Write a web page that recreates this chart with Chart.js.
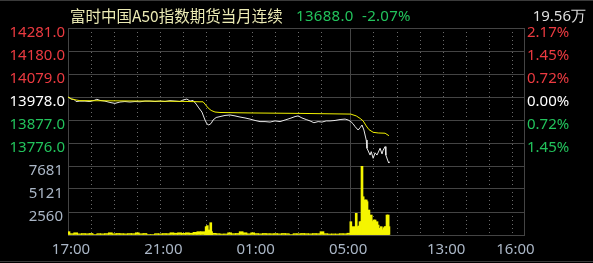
<!DOCTYPE html>
<html>
<head>
<meta charset="utf-8">
<script src="https://cdn.jsdelivr.net/npm/chart.js@4.4.0/dist/chart.umd.min.js"></script>
<style>
  html, body { margin: 0; padding: 0; background: #000; }
  #wrap { position: relative; width: 593px; height: 263px; background: #000; overflow: hidden; }
  #cv { position: absolute; left: 0; top: 0; }
  .hd { position: absolute; top: 4px; line-height: 22px; white-space: nowrap; font-family: "Noto Sans", sans-serif; font-size: 15px; }
  .rule { position: absolute; left: 0; width: 593px; height: 1px; background: #3a3a3a; }
</style>
</head>
<body>
<div id="wrap">
  <canvas id="cv" width="593" height="263"></canvas>
  <div class="hd" id="title" style="left:70px;color:#ecebb4;font-family:'Noto Sans CJK SC',sans-serif;font-size:15.5px"></div>
  <div class="hd" id="last" style="left:296px;color:#22c35c;letter-spacing:0.3px"></div>
  <div class="hd" id="total" style="right:7px;color:#dedede"></div>
  <div class="rule" style="top:0"></div>
  <div class="rule" style="top:261px"></div>
</div>
<script>
const title = "富时中国A50指数期货当月连续";
const lastPrice = "13688.0";
const changePct = "-2.07%";
const totalVol = "19.56万";
const prevClose = 13978;

// x axis runs in trading minutes from 17:00 (night session 17:00-05:15, day 09:00-16:30)
const hourMarks = [0, 60, 120, 180, 240, 300, 360, 420, 480, 540, 600, 660, 720, 735, 795, 855, 915, 975, 1035, 1095, 1155];
const timeTickMin = [0, 240, 480, 720, 975, 1155];
const timeTickText = ["17:00", "21:00", "01:00", "05:00", "13:00", "16:00"];

const priceTicks = [14281, 14180, 14079, 13978, 13877, 13776, 13675];
const priceTickText = ["14281.0", "14180.0", "14079.0", "13978.0", "13877.0", "13776.0", ""];
const pctTickText = ["2.17%", "1.45%", "0.72%", "0.00%", "0.72%", "1.45%", ""];
const volTicks = [7681, 5121, 2560, 0];
const volTickText = ["7681", "5121", "2560", ""];

const priceMin = [0,8,16,21,31,44,57,68,75,83,96,109,122,135,148,161,174,187,200,213,
  226,239,252,265,278,291,299,309,317,325,333,340,348,356,361,366,372,377,385,395,
  408,421,434,447,460,473,486,499,512,525,538,551,564,577,590,598,608,619,629,639,
  650,660,671,681,694,707,720,728,735,741,746,754,759,764,769,775,777,785,788,793,
  798,803,811,816,819,824,826,832,834];
const priceVal = [13978,13969,13967,13958,13960,13960,13958,13963,13968,13963,13960,13954,13950,13956,13958,13956,13958,13957,13960,13960,
  13958,13960,13958,13962,13960,13958,13965,13969,13960,13963,13947,13930,13912,13877,13860,13855,13862,13877,13888,13892,
  13897,13899,13895,13890,13886,13881,13875,13870,13870,13868,13873,13870,13877,13884,13892,13895,13886,13879,13873,13865,
  13870,13868,13873,13873,13875,13879,13881,13877,13870,13860,13848,13833,13843,13855,13833,13789,13753,13723,13738,13709,
  13733,13723,13753,13728,13745,13760,13723,13694,13688];

const avgMin = [0,10,21,31,135,291,343,351,356,364,372,382,395,473,603,735,738,749,759,767,775,782,793,806,824,834];
const avgVal = [13978,13969,13965,13962,13961,13959,13957,13957,13947,13930,13919,13912,13910,13908,13906,13903,13901,13895,13884,13873,13851,13835,13823,13820,13819,13808];

const nightMin = [0,10,20,30,40,50,60,70,80,90,100,110,120,130,140,150,160,170,180,190,
  200,210,220,230,240,250,260,270,280,290,300,310,320,330,340,350,360,370,380,390,
  400,410,420,430,440,450,460,470,480,490,500,510,520,530,540,550,560,570,580,590,
  600,610,620,630,640,650,660,670,680,690,700,710,720,730];
const nightVol = [370,150,250,130,160,140,170,60,150,130,160,250,140,170,150,130,160,150,250,140,
  170,60,60,150,130,160,150,250,200,250,190,250,200,300,370,370,200,210,190,150,
  110,120,250,150,170,370,250,140,250,160,130,170,150,140,160,130,170,150,60,150,
  140,170,150,130,160,150,370,150,110,120,110,150,140,200];

const fineMin = [359,362,366,371,373,
  735,738,741,743,746,749,751,754,756,759,762,764,767,769,772,775,777,780,782,785,
  788,790,793,795,798,801,803,806,808,811,814,816,819,821,824,826,829,832,834];
const fineVol = [930,1040,560,1370,370,
  1480,900,900,900,900,2410,900,900,1000,1480,1480,7681,4260,3530,3900,3900,3710,2410,2780,2040,
  2225,1480,1480,1670,1670,1300,1480,1110,740,740,930,560,560,810,930,930,2225,2225,930];

document.getElementById("title").textContent = title;
document.getElementById("last").innerHTML = lastPrice + "&nbsp;&nbsp;" + changePct;
document.getElementById("total").textContent = totalVol;

const FONT = { family: "'Noto Sans', sans-serif", size: 15 };
const GRID = "#444444";
const DOT = "#6a6a6a";
const RED = "#ec3a40";
const GREEN = "#22c35c";
const GREYTXT = "#aab6c6";

const zip = (xs, ys) => xs.map((x, i) => ({ x: x, y: ys[i] }));
const priceColor = v => v > prevClose ? RED : (v < prevClose ? GREEN : "#ffffff");
const isDotted = ctx => ctx.tick && ctx.tick.value !== 735;

new Chart(document.getElementById("cv"), {
  data: {
    datasets: [
      { type: "line", label: "均价", data: zip(avgMin, avgVal), xAxisID: "x", yAxisID: "y",
        borderColor: "#f2f200", borderWidth: 1, pointRadius: 0, tension: 0 },
      { type: "line", label: "价格", data: zip(priceMin, priceVal), xAxisID: "x", yAxisID: "y",
        borderColor: "#e8e8e8", borderWidth: 1, pointRadius: 0, tension: 0 },
      { type: "bar", label: "成交量", data: zip(fineMin, fineVol), xAxisID: "x", yAxisID: "yv",
        backgroundColor: "#f5f500", barThickness: 2, grouped: false },
      { type: "bar", label: "成交量", data: zip(nightMin, nightVol), xAxisID: "x", yAxisID: "yv",
        backgroundColor: "#f5f500", barThickness: 4, grouped: false }
    ]
  },
  options: {
    responsive: false,
    animation: false,
    layout: { padding: { top: 28, left: 0, right: 0, bottom: 0 } },
    plugins: { legend: { display: false }, tooltip: { enabled: false } },
    scales: {
      x: {
        type: "linear", min: 0, max: 1185, offset: false,
        afterBuildTicks: s => { s.ticks = hourMarks.map(v => ({ value: v })); },
        afterFit: s => { s.height = 28; },
        ticks: {
          autoSkip: false, maxRotation: 0, color: GREYTXT, font: FONT, padding: 6, labelOffset: 3,
          callback: v => { const i = timeTickMin.indexOf(v); return i < 0 ? "" : timeTickText[i]; }
        },
        grid: {
          offset: false, drawTicks: false,
          color: ctx => (!ctx.tick || ctx.tick.value === 0 || ctx.tick.value === 720) ? "rgba(0,0,0,0)" : (isDotted(ctx) ? DOT : GRID)
        },
        border: { color: GRID, dash: ctx => isDotted(ctx) ? [1, 3] : [] }
      },
      yv: {
        type: "linear", position: "left", stack: "L", stackWeight: 1, min: 0, max: 7681,
        afterBuildTicks: s => { s.ticks = volTicks.map(v => ({ value: v })); },
        afterFit: s => { s.width = 68; },
        ticks: { autoSkip: false, color: GREYTXT, font: FONT, padding: 5, labelOffset: 5,
          callback: v => volTickText[volTicks.indexOf(v)] },
        grid: { color: GRID, drawTicks: false },
        border: { color: GRID }
      },
      y: {
        type: "linear", position: "left", stack: "L", stackWeight: 2, min: 13675, max: 14281,
        afterBuildTicks: s => { s.ticks = priceTicks.map(v => ({ value: v })); },
        afterFit: s => { s.width = 68; },
        ticks: { autoSkip: false, font: FONT, padding: 3, labelOffset: 5,
          color: ctx => priceColor(ctx.tick.value),
          callback: v => priceTickText[priceTicks.indexOf(v)] },
        grid: { color: GRID, drawTicks: false },
        border: { color: GRID }
      },
      yp: {
        type: "linear", position: "right", stack: "R", stackWeight: 2, min: 13675, max: 14281,
        afterBuildTicks: s => { s.ticks = priceTicks.map(v => ({ value: v })); },
        afterFit: s => { s.width = 69; },
        ticks: { autoSkip: false, font: FONT, padding: 3, labelOffset: 5,
          color: ctx => priceColor(ctx.tick.value),
          callback: v => pctTickText[priceTicks.indexOf(v)] },
        grid: { display: false, drawTicks: false },
        border: { color: GRID }
      },
      yd: {
        type: "linear", position: "right", stack: "R", stackWeight: 1, min: 0, max: 1,
        afterFit: s => { s.width = 69; },
        ticks: { display: false },
        grid: { display: false, drawTicks: false },
        border: { color: GRID }
      }
    }
  }
});
</script>
</body>
</html>
